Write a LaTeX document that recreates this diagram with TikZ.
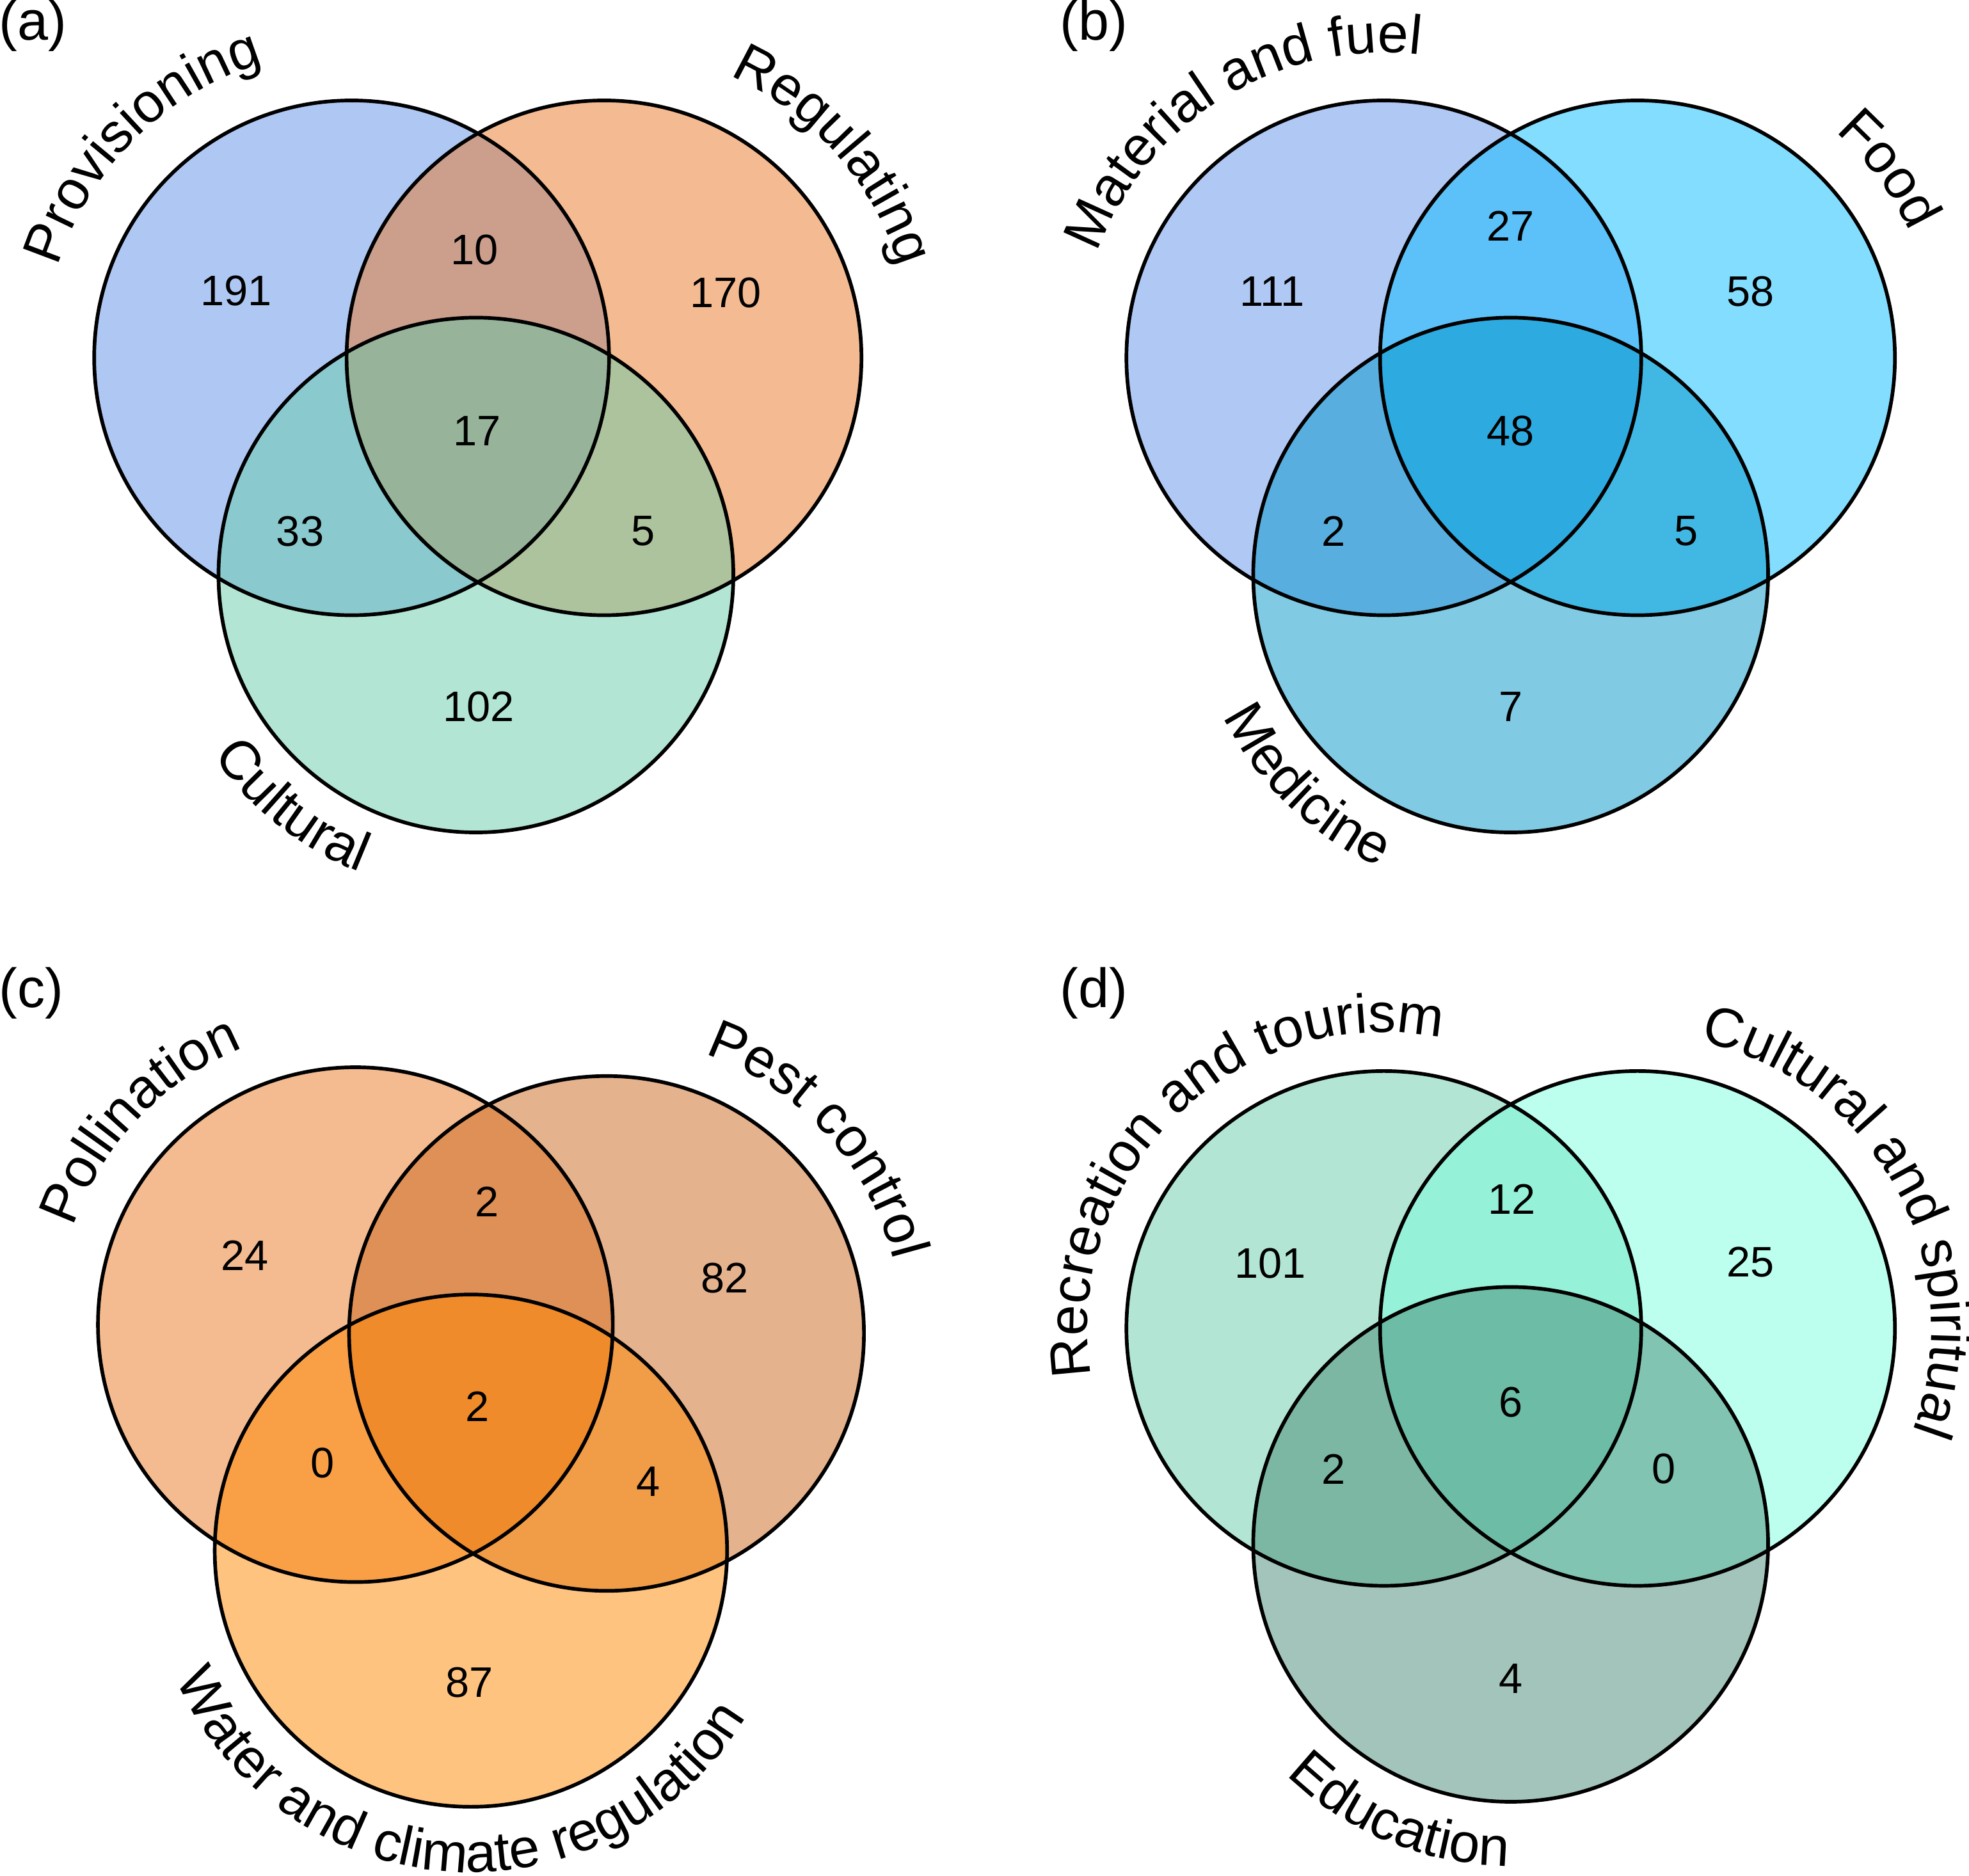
\documentclass[tikz,border=0pt]{standalone}
\usepackage{fontspec}
\setmainfont{Liberation Sans}
\usetikzlibrary{decorations.text}
\newcommand\lblfont{\fontsize{44}{44}\selectfont}
\newcommand\numfont{\fontsize{34}{34}\selectfont}
\definecolor{cProv}{RGB}{95,145,231}
\definecolor{cReg}{RGB}{233,119,39}
\definecolor{cCul}{RGB}{101,203,169}
\definecolor{cMat}{RGB}{97,145,233}
\definecolor{cFood}{RGB}{7,187,253}
\definecolor{cMed}{RGB}{1,149,201}
\definecolor{cPol}{RGB}{233,119,33}
\definecolor{cPest}{RGB}{203,101,29}
\definecolor{cWat}{RGB}{255,135,1}
\definecolor{cRec}{RGB}{101,203,169}
\definecolor{cCS}{RGB}{121,255,221}
\definecolor{cEdu}{RGB}{71,137,117}
\tikzset{
  setfill/.style={fill=#1, fill opacity=0.5},
  ring/.style={draw=black, line width=2.9pt},
  num/.style={font=\numfont, inner sep=0pt},
  panel/.style={font=\lblfont, inner sep=0pt, anchor=base west},
}
\newcommand\toplbl[4]{\path[decorate,decoration={text along path,text align=center,text={|\lblfont|#4}}] (#1) ++(#2+85:#3) arc[start angle=#2+85, end angle=#2-85, radius=#3];}
\newcommand\botlbl[4]{\path[decorate,decoration={text along path,text align=center,text={|\lblfont|#4}}] (#1) ++(#2-85:#3) arc[start angle=#2-85, end angle=#2+85, radius=#3];}
\begin{document}
\begin{tikzpicture}[x=1pt,y=1pt]
\useasboundingbox (0,0) rectangle (1568,1494);
% centres
\coordinate (Pc) at (280,1209);
\coordinate (Rc) at (481,1209);
\coordinate (Cc) at (379,1036);
\coordinate (Mc) at (1102,1209);
\coordinate (Fc) at (1304,1209);
\coordinate (Dc) at (1203,1036);
\coordinate (Oc) at (283,439);
\coordinate (Ec) at (483,432);
\coordinate (Wc) at (375,259);
\coordinate (Tc) at (1102,436);
\coordinate (Sc) at (1304,436);
\coordinate (Uc) at (1203,264);
% fills
\fill[setfill=cProv] (Pc) circle[radius=205pt];
\fill[setfill=cReg] (Rc) circle[radius=205pt];
\fill[setfill=cCul] (Cc) circle[radius=205pt];
\fill[setfill=cMat] (Mc) circle[radius=205pt];
\fill[setfill=cFood] (Fc) circle[radius=205pt];
\fill[setfill=cMed] (Dc) circle[radius=205pt];
\fill[setfill=cPol] (Oc) circle[radius=205pt];
\fill[setfill=cPest] (Ec) circle[radius=205pt];
\fill[setfill=cWat] (Wc) circle[radius=204pt];
\fill[setfill=cRec] (Tc) circle[radius=205pt];
\fill[setfill=cCS] (Sc) circle[radius=205pt];
\fill[setfill=cEdu] (Uc) circle[radius=205pt];
% outlines
\draw[ring] (Pc) circle[radius=205pt];
\draw[ring] (Rc) circle[radius=205pt];
\draw[ring] (Cc) circle[radius=205pt];
\draw[ring] (Mc) circle[radius=205pt];
\draw[ring] (Fc) circle[radius=205pt];
\draw[ring] (Dc) circle[radius=205pt];
\draw[ring] (Oc) circle[radius=205pt];
\draw[ring] (Ec) circle[radius=205pt];
\draw[ring] (Wc) circle[radius=204pt];
\draw[ring] (Tc) circle[radius=205pt];
\draw[ring] (Sc) circle[radius=205pt];
\draw[ring] (Uc) circle[radius=205pt];
% panel letters
\node[panel] (pa) at (-1,1462) {(a)};
\node[panel] (pb) at (844,1462) {(b)};
\node[panel] (pc) at (-1,691.5) {(c)};
\node[panel] (pd) at (844,691.5) {(d)};
% numbers (a)
\node[num] (a1) at (188,1262.5) {191};
\node[num] (a2) at (378,1295) {10};
\node[num] (a3) at (578,1261) {170};
\node[num] (a4) at (380,1151) {17};
\node[num] (a5) at (239,1071) {33};
\node[num] (a6) at (512,1071) {5};
\node[num] (a7) at (381,931) {102};
% numbers (b)
\node[num] (b1) at (1013,1262) {111};
\node[num] (b2) at (1203,1314) {27};
\node[num] (b3) at (1394,1262) {58};
\node[num] (b4) at (1203,1151) {48};
\node[num] (b5) at (1062,1071) {2};
\node[num] (b6) at (1343,1071) {5};
\node[num] (b7) at (1203,931) {7};
% numbers (c)
\node[num] (c1) at (195,494) {24};
\node[num] (c2) at (388,537) {2};
\node[num] (c3) at (577,476) {82};
\node[num] (c4) at (380,374) {2};
\node[num] (c5) at (257,329) {0};
\node[num] (c6) at (516,314) {4};
\node[num] (c7) at (373.7,154) {87};
% numbers (d)
\node[num] (d1) at (1011.6,488) {101};
\node[num] (d2) at (1204,539) {12};
\node[num] (d3) at (1394,489) {25};
\node[num] (d4) at (1203,377) {6};
\node[num] (d5) at (1062,324) {2};
\node[num] (d6) at (1325,324) {0};
\node[num] (d7) at (1203,157) {4};
% curved labels
\toplbl{Pc}{134.7}{245pt}{Provisioning}
\toplbl{Rc}{41.5}{246pt}{Regulating}
\botlbl{Cc}{231.6}{254pt}{Cultural}
\toplbl{Mc}{121.5}{243pt}{Material and fuel}
\toplbl{Fc}{36.8}{239pt}{Food}
\botlbl{Dc}{226}{255pt}{Medicine}
\toplbl{Oc}{136.5}{238pt}{Pollination}
\toplbl{Ec}{42.5}{236pt}{Pest control}
\botlbl{Wc}{266.2}{256pt}{Water and climate regulation}
\toplbl{Tc}{134}{236pt}{Recreation and tourism}
\toplbl{Sc}{28.7}{234pt}{Cultural and spiritual}
\botlbl{Uc}{247.7}{256pt}{Education}
\end{tikzpicture}
\end{document}
